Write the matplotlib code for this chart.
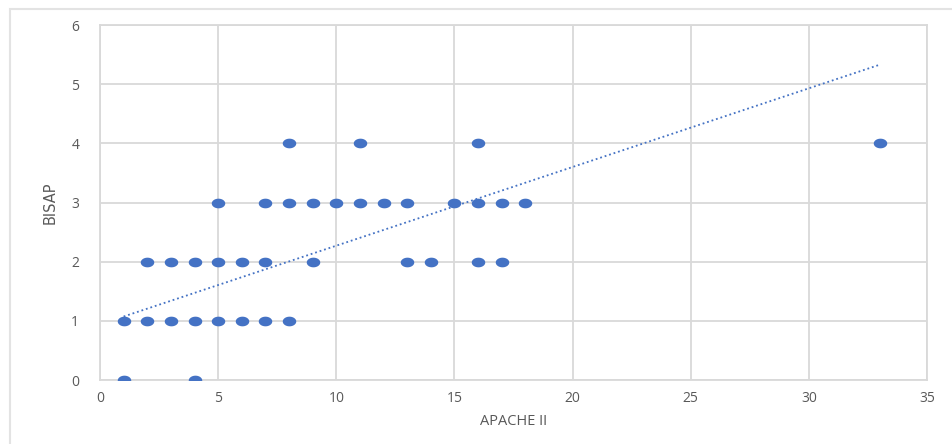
import matplotlib.pyplot as plt
import numpy as np
from matplotlib.patches import Rectangle

# APACHE II vs BISAP scores (unique points)
apache = [1, 4,
          1, 2, 3, 4, 5, 6, 7, 8,
          2, 3, 4, 5, 6, 7, 9, 13, 14, 16, 17,
          5, 7, 8, 9, 10, 11, 12, 13, 15, 16, 17, 18,
          8, 11, 16, 33]
bisap = [0, 0,
         1, 1, 1, 1, 1, 1, 1, 1,
         2, 2, 2, 2, 2, 2, 2, 2, 2, 2, 2,
         3, 3, 3, 3, 3, 3, 3, 3, 3, 3, 3, 3,
         4, 4, 4, 4]

# linear trendline as shown in the picture
trend_slope = 0.133
trend_intercept = 0.94

x_ticks = [0, 5, 10, 15, 20, 25, 30, 35]
y_ticks = [0, 1, 2, 3, 4, 5, 6]

blue = '#4472C4'
grid_col = '#D9D9D9'
text_col = '#595959'

fig = plt.figure(figsize=(9.52, 4.44), dpi=100)
ax = fig.add_axes([100 / 952, 1 - 380 / 444, 827 / 952, 355 / 444])

# chart frame
fig.add_artist(Rectangle((9.5 / 952, -0.2), 2, 1.2 - 9.5 / 444,
                         transform=fig.transFigure, fill=False,
                         ec='#E3E3E3', lw=1.5))

# slightly wide ellipse marker
t = np.linspace(0, 2 * np.pi, 40)
ell = np.column_stack([1.4 * np.cos(t), np.sin(t)])

ax.scatter(apache, bisap, marker=ell, s=95, color=blue, zorder=3, linewidths=0)

xs = np.array([min(apache), max(apache)])
ax.plot(xs, trend_intercept + trend_slope * xs, color=blue, lw=1.3,
        linestyle=(0, (1, 1.6)), zorder=2)

ax.set_xlim(0, 35)
ax.set_ylim(0, 6)
ax.set_xticks(x_ticks)
ax.set_yticks(y_ticks)
ax.grid(True, color=grid_col, lw=1.3)
ax.set_axisbelow(True)
for s in ax.spines.values():
    s.set_color(grid_col)
    s.set_linewidth(1.3)

ax.tick_params(length=0, colors=text_col, labelsize=10)
ax.tick_params(axis='x', pad=8)
ax.tick_params(axis='y', pad=15)
for lab in ax.get_xticklabels() + ax.get_yticklabels():
    lab.set_family(['Open Sans', 'DejaVu Sans'])

ax.set_xlabel('APACHE II', color=text_col, fontsize=10.5,
              family=['Open Sans', 'DejaVu Sans'], labelpad=6)
ax.set_ylabel('BISAP', color=text_col, fontsize=10.5,
              family=['Liberation Sans Narrow', 'DejaVu Sans'], labelpad=10)

fig.savefig('out.png', dpi=100)
